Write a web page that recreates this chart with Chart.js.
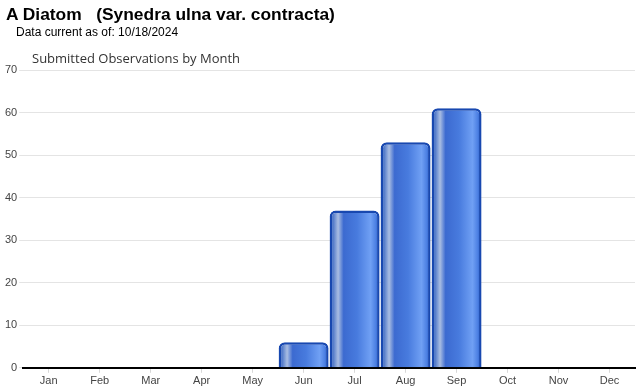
<!DOCTYPE html>
<html>
<head>
<meta charset="utf-8">
<script src="https://cdn.jsdelivr.net/npm/chart.js@4"></script>
<style>
    body { margin: 0; background: #fff; font-family: Arial, "Liberation Sans", sans-serif; }
    #wrap { position: relative; width: 640px; height: 390px; }
    #title { position: absolute; left: 6px; top: 4px; font-size: 17.4px; font-weight: bold; color: #000; white-space: pre; }
    #subtitle { position: absolute; left: 16px; top: 25px; font-size: 12px; color: #000; }
    #chartTitle { position: absolute; left: 32px; top: 49px; font-size: 13px; color: #333; font-family: "Open Sans", Arial, sans-serif; }
    canvas { position: absolute; left: 0; top: 0; }
</style>
</head>
<body>
<div id="wrap">
    <canvas id="obs-chart" width="640" height="390"></canvas>
    <div id="title">A Diatom   (Synedra ulna var. contracta)</div>
    <div id="subtitle">Data current as of: 10/18/2024</div>
    <div id="chartTitle">Submitted Observations by Month</div>
</div>
<script>
const months = ['Jan', 'Feb', 'Mar', 'Apr', 'May', 'Jun', 'Jul', 'Aug', 'Sep', 'Oct', 'Nov', 'Dec'];
const observations = [0, 0, 0, 0, 0, 6, 37, 53, 61, 0, 0, 0];
const yTicks = [0, 10, 20, 30, 40, 50, 60, 70];

const BAR_PCT = 0.98;

// Glossy horizontal gradient for each bar, from the scale's own pixel position
function barGloss(context) {
    const chart = context.chart;
    const xScale = chart.scales.x;
    if (!xScale || context.dataIndex === undefined) return '#4a7ddd';
    const center = xScale.getPixelForValue(context.dataIndex);
    const half = (xScale.width / months.length) * BAR_PCT / 2;
    if (!isFinite(center) || !isFinite(half) || half <= 0) return '#4a7ddd';
    const g = chart.ctx.createLinearGradient(center - half, 0, center + half, 0);
    g.addColorStop(0, '#1548b0');
    g.addColorStop(0.08, '#5a80cc');
    g.addColorStop(0.17, '#a9bde2');
    g.addColorStop(0.28, '#3c6ad0');
    g.addColorStop(0.55, '#487bde');
    g.addColorStop(0.82, '#70a0f4');
    g.addColorStop(0.93, '#4a7ee2');
    g.addColorStop(1, '#1346ac');
    return g;
}

new Chart(document.getElementById('obs-chart'), {
    type: 'bar',
    data: {
        labels: months,
        datasets: [{
            data: observations,
            backgroundColor: barGloss,
            borderColor: '#1848b0',
            borderWidth: 2.5,
            borderSkipped: 'bottom',
            borderRadius: { topLeft: 6, topRight: 6, bottomLeft: 0, bottomRight: 0 },
            barPercentage: BAR_PCT,
            categoryPercentage: 1.0
        }]
    },
    options: {
        responsive: false,
        animation: false,
        layout: { padding: { top: 70, right: 5, bottom: 0, left: 3 } },
        scales: {
            x: {
                grid: { drawOnChartArea: false, offset: false, color: '#d8d8d8', tickLength: 5 },
                border: { display: true, color: '#000', width: 2 },
                ticks: { color: '#444', font: { family: 'Arial', size: 11 }, padding: 2 }
            },
            y: {
                min: 0,
                max: 70,
                afterBuildTicks: axis => { axis.ticks = yTicks.map(v => ({ value: v })); },
                grid: { color: '#e4e4e4', tickLength: 4 },
                border: { display: false },
                ticks: { color: '#444', font: { family: 'Arial', size: 11 }, padding: 2 }
            }
        },
        plugins: {
            legend: { display: false },
            tooltip: { enabled: false }
        }
    }
});
</script>
</body>
</html>
